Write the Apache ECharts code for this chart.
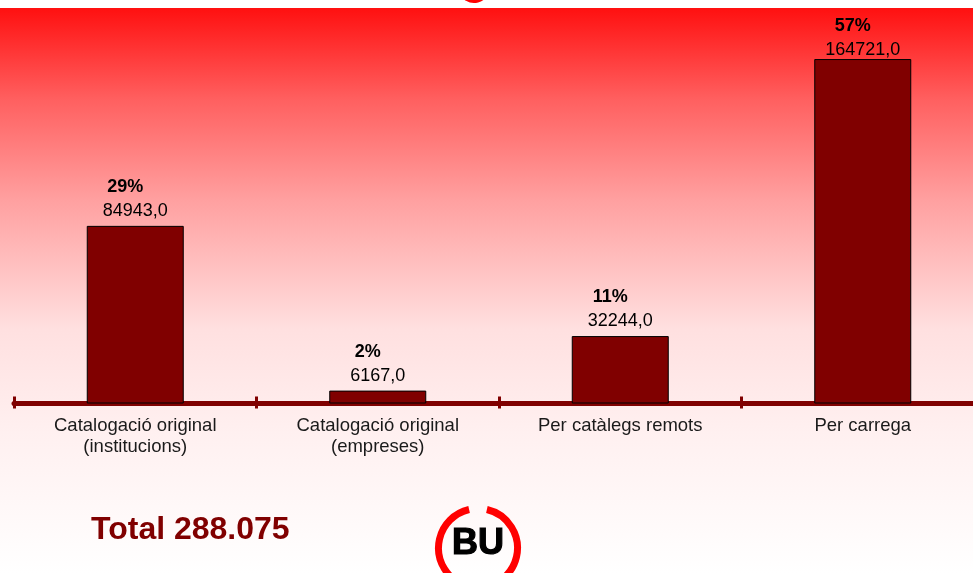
<!DOCTYPE html>
<html>
<head>
<meta charset="utf-8">
<script src="https://cdn.jsdelivr.net/npm/echarts@6/dist/echarts.min.js"></script>
<style>
  html, body { margin: 0; padding: 0; background: #fff; }
  #chart { width: 973px; height: 573px; }
</style>
</head>
<body>
<div id="chart"></div>
<script>
// data
var categories = ['Catalogació original\n(institucions)', 'Catalogació original\n(empreses)', 'Per catàlegs remots', 'Per carrega'];
var values = [84943, 6167, 32244, 164721];
var percentLabels = ['29%', '2%', '11%', '57%'];
var totalText = 'Total 288.075';

var darkRed = '#800000';
var font = '"Liberation Sans", Arial, sans-serif';

// the tallest bar's label sits a bit closer to the bar in the original
var barData = values.map(function (v, i) {
    return i === 3 ? { value: v, label: { distance: -3 } } : v;
});

var chart = echarts.init(document.getElementById('chart'));

var option = {
    backgroundColor: '#ffffff',
    animation: false,
    grid: { left: 14, width: 970, top: 48, height: 355.5, containLabel: false, outerBoundsMode: 'none' },
    xAxis: [
        {
            type: 'category',
            data: categories,
            axisLine: { lineStyle: { color: darkRed, width: 5 } },
            axisTick: { show: true, inside: true, length: 7, lineStyle: { color: darkRed, width: 3 } },
            axisLabel: {
                interval: 0,
                margin: 12,
                color: '#1a1a1a',
                fontSize: 18.5,
                lineHeight: 21,
                fontFamily: font
            }
        },
        {
            // second axis only for the lower half of the ticks
            type: 'category',
            data: categories,
            position: 'bottom',
            axisLine: { show: false },
            axisTick: { show: true, length: 5, lineStyle: { color: darkRed, width: 3 } },
            axisLabel: { show: false }
        }
    ],
    yAxis: {
        type: 'value',
        min: 0,
        max: 170000,
        show: false,
        splitLine: { show: false }
    },
    series: [{
        type: 'bar',
        data: barData,
        barWidth: 97,
        itemStyle: { color: darkRed, borderColor: '#000', borderWidth: 1 },
        label: {
            show: true,
            position: 'top',
            distance: 3,
            formatter: function (p) {
                return '{p|' + percentLabels[p.dataIndex] + '}\n{v|' + p.value.toFixed(1).replace('.', ',') + '}';
            },
            rich: {
                p: { fontSize: 18, fontWeight: 'bold', color: '#000', fontFamily: font, lineHeight: 24, padding: [0, 20, 0, 0] },
                v: { fontSize: 18, color: '#000', fontFamily: font, lineHeight: 24 }
            }
        }
    }],
    graphic: [
        {
            type: 'rect',
            z: -10,
            silent: true,
            shape: { x: 0, y: 8, width: 973, height: 565 },
            style: {
                fill: new echarts.graphic.LinearGradient(0, 0, 0, 1, [
                    { offset: 0, color: '#ff1010' },
                    { offset: 0.163, color: '#ff6060' },
                    { offset: 0.34, color: '#ffa0a0' },
                    { offset: 0.57, color: '#ffe0e0' },
                    { offset: 0.75, color: '#fff0f0' },
                    { offset: 1, color: '#ffffff' }
                ])
            }
        },
        {
            // tail of the logo above the slide
            type: 'arc',
            z: 100,
            shape: { cx: 474, cy: -13, r: 14, startAngle: Math.PI / 6, endAngle: Math.PI * 5 / 6 },
            style: { stroke: '#ff0000', lineWidth: 4, fill: null }
        },
        {
            type: 'text',
            z: 100,
            left: 91,
            top: 514,
            style: { text: totalText, fill: darkRed, font: 'bold 32px ' + font }
        },
        {
            type: 'arc',
            z: 100,
            shape: { cx: 478, cy: 548, r: 39.5, startAngle: 103 * Math.PI / 180, endAngle: 257 * Math.PI / 180 },
            style: { stroke: '#ff0000', lineWidth: 7, fill: null }
        },
        {
            type: 'arc',
            z: 100,
            shape: { cx: 478, cy: 548, r: 39.5, startAngle: -77 * Math.PI / 180, endAngle: 77 * Math.PI / 180 },
            style: { stroke: '#ff0000', lineWidth: 7, fill: null }
        },
        {
            type: 'text',
            z: 100,
            x: 478,
            y: 544,
            style: { text: 'BU', fill: '#000', font: 'bold 36px ' + font, align: 'center', verticalAlign: 'middle', stroke: '#000', lineWidth: 1.2 }
        }
    ]
};

chart.setOption(option);

window.addEventListener('resize', function () {
    chart.resize();
});
</script>
</body>
</html>
